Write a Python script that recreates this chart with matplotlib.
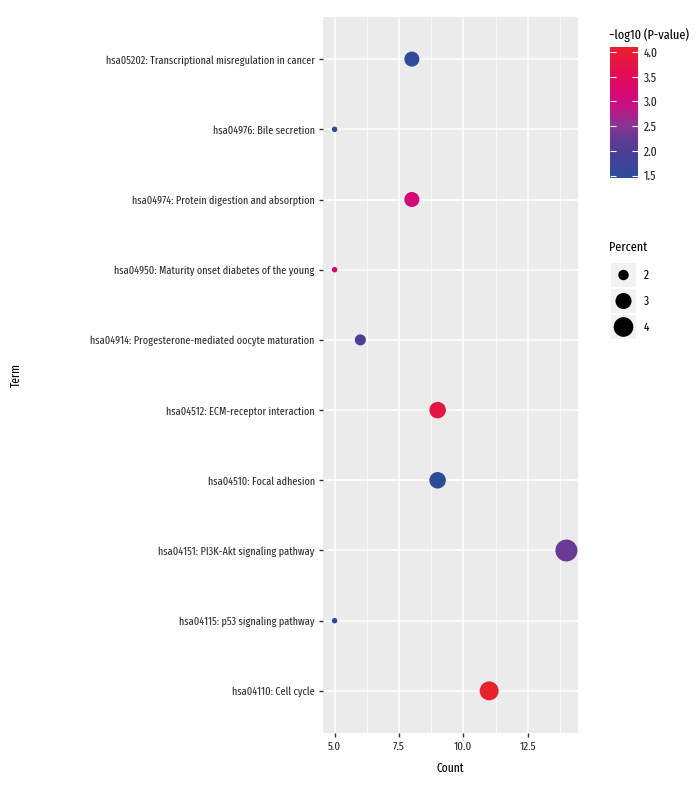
import numpy as np
import matplotlib.pyplot as plt
from matplotlib.colors import LinearSegmentedColormap, Normalize
from matplotlib import font_manager

fams = {f.name for f in font_manager.fontManager.ttflist}
candidates = ['Fira Sans Extra Condensed', 'Fira Sans Condensed', 'PT Sans Narrow',
              'Roboto Condensed', 'Archivo Narrow', 'Liberation Sans Narrow']
narrow = next((c for c in candidates if c in fams), 'DejaVu Sans')
plt.rcParams['font.family'] = [narrow, 'DejaVu Sans']

# bottom to top
terms = ['hsa04110: Cell cycle',
         'hsa04115: p53 signaling pathway',
         'hsa04151: PI3K-Akt signaling pathway',
         'hsa04510: Focal adhesion',
         'hsa04512: ECM-receptor interaction',
         'hsa04914: Progesterone-mediated oocyte maturation',
         'hsa04950: Maturity onset diabetes of the young',
         'hsa04974: Protein digestion and absorption',
         'hsa04976: Bile secretion',
         'hsa05202: Transcriptional misregulation in cancer']
counts = [11, 5, 14, 9, 9, 6, 5, 8, 5, 8]
neglogp = [4.10, 1.45, 2.30, 1.52, 3.80, 1.95, 3.00, 3.10, 1.50, 1.55]
percent = [3.79, 1.72, 4.83, 3.10, 3.10, 2.07, 1.72, 2.76, 1.72, 2.76]
size_breaks = [2, 3, 4]
color_ticks = [1.5, 2.0, 2.5, 3.0, 3.5, 4.0]

W, H = 696, 792
fig = plt.figure(figsize=(W / 100, H / 100), dpi=100)

vmin, vmax = min(neglogp), max(neglogp)
stops = [(1.45, '#2A4B9B'), (2.0, '#4B3F98'), (2.3, '#6A3A94'), (2.5, '#893594'),
         (3.0, '#D10A80'), (3.5, '#E30A58'), (4.1, '#E8212F')]
cmap = LinearSegmentedColormap.from_list(
    'bp', [((v - vmin) / (vmax - vmin), c) for v, c in stops])
norm = Normalize(vmin=vmin, vmax=vmax)

pmin, pmax = min(percent), max(percent)


def dot_area(p):
    d = 5.5 + 16.5 * np.sqrt((np.asarray(p) - pmin) / (pmax - pmin))
    return (d * 0.72) ** 2


ax = fig.add_axes([323 / W, 1 - 733 / H, 255 / W, 716 / H])
ax.set_facecolor('#EBEBEB')
y = np.arange(len(terms))
ax.scatter(counts, y, s=dot_area(percent), c=neglogp, cmap=cmap, norm=norm,
           edgecolors='none', zorder=3)
ax.set_xlim(4.55, 14.45)
ax.set_ylim(-0.6, len(terms) - 0.4)
ax.set_xticks([5, 7.5, 10, 12.5])
ax.set_xticklabels(['5.0', '7.5', '10.0', '12.5'])
ax.set_xticks([6.25, 8.75, 11.25, 13.75], minor=True)
ax.set_yticks(y)
ax.set_yticklabels(terms)
ax.grid(which='major', color='white', lw=1.1, zorder=1)
ax.grid(which='minor', axis='x', color='white', lw=0.55, zorder=1)
ax.tick_params(which='major', length=3, width=1, color='#333333',
               labelsize=8, labelcolor='#2b2b2b', pad=3)
ax.tick_params(axis='x', labelsize=8.5)
ax.tick_params(which='minor', length=0)
for s in ax.spines.values():
    s.set_visible(False)
ax.set_axisbelow(True)
ax.set_xlabel('Count', fontsize=9, labelpad=7)
ax.set_ylabel('Term', fontsize=9)
ax.yaxis.set_label_coords(-(323 - 22) / 255, 0.5)

# colour bar
cax = fig.add_axes([610 / W, 1 - 178 / H, 28 / W, 131 / H])
sm = plt.cm.ScalarMappable(norm=norm, cmap=cmap)
cb = fig.colorbar(sm, cax=cax, ticks=color_ticks)
cb.outline.set_visible(False)
cax.yaxis.set_ticks_position('both')
cax.tick_params(direction='in', length=4, width=0.8, color='white',
                labelsize=9, labelcolor='#222222', pad=4, labelright=True,
                labelleft=False)
fig.text(609 / W, 1 - 35 / H, '\u2212log10 (P-value)', fontsize=9.5,
         va='center', ha='left')

# size legend
lax = fig.add_axes([611 / W, 1 - 340 / H, 25 / W, 78 / H])
lax.set_xlim(0, 1)
lax.set_ylim(0, 3)
lax.axis('off')
for i, b in enumerate(size_breaks):
    yy = 2 - i
    lax.add_patch(plt.Rectangle((0, yy + 0.04), 1, 0.92, color='#F2F2F2', lw=0))
    lax.scatter([0.5], [yy + 0.5], s=dot_area(b), c='black', edgecolors='none')
    lax.text(1.3, yy + 0.5, str(b), fontsize=9, va='center', ha='left')
fig.text(609 / W, 1 - 247 / H, 'Percent', fontsize=9.5, va='center', ha='left')

fig.savefig('out.png', dpi=100)
